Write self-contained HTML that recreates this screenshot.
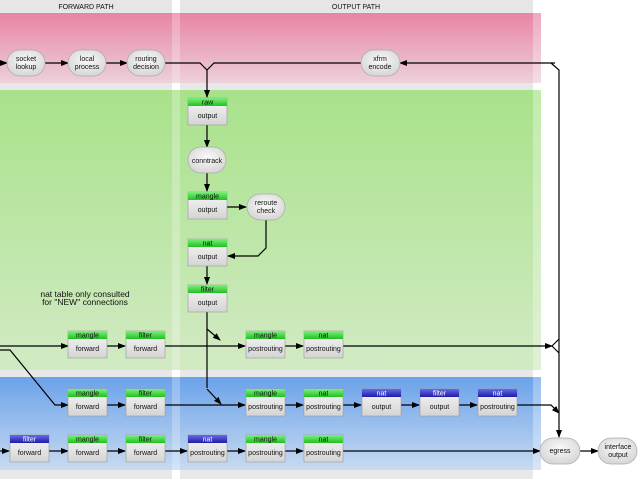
<!DOCTYPE html>
<html><head><style>
html,body{margin:0;padding:0;background:#fff}
svg{display:block}
text{font-family:"Liberation Sans",sans-serif;font-size:7px;fill:#111;text-anchor:middle}
</style></head><body>
<svg width="638" height="479" viewBox="0 0 638 479" xmlns="http://www.w3.org/2000/svg">
<defs>
<linearGradient id="pk" x1="0" y1="0" x2="0" y2="1"><stop offset="0" stop-color="#e884a4"/><stop offset="1" stop-color="#ecd0da"/></linearGradient>
<linearGradient id="gr" x1="0" y1="0" x2="0" y2="1"><stop offset="0" stop-color="#a8e28a"/><stop offset="1" stop-color="#d2eac4"/></linearGradient>
<linearGradient id="bl" x1="0" y1="0" x2="0" y2="1"><stop offset="0" stop-color="#6aa2ea"/><stop offset="1" stop-color="#c8daf0"/></linearGradient>
<linearGradient id="bx" x1="0" y1="0" x2="0" y2="1"><stop offset="0" stop-color="#f8f8f8"/><stop offset="1" stop-color="#d4d4d4"/></linearGradient>
<linearGradient id="hg" x1="0" y1="0" x2="0" y2="1"><stop offset="0" stop-color="#7cf07c"/><stop offset="1" stop-color="#22c022"/></linearGradient>
<linearGradient id="hb" x1="0" y1="0" x2="0" y2="1"><stop offset="0" stop-color="#6a6ae8"/><stop offset="1" stop-color="#1c1ca8"/></linearGradient>
<radialGradient id="el" cx="0.5" cy="0.4" r="0.6"><stop offset="0" stop-color="#fafafa"/><stop offset="1" stop-color="#d6d6d6"/></radialGradient>
<marker id="a" markerWidth="8" markerHeight="6" refX="7" refY="3" orient="auto" markerUnits="userSpaceOnUse"><path d="M0,0 L8,3 L0,6 z" fill="#000"/></marker>
</defs>
<rect x="0" y="0" width="172" height="479" fill="#e8e8e8"/>
<rect x="180" y="0" width="353" height="479" fill="#e8e8e8"/>
<rect x="0" y="13" width="541" height="70" fill="url(#pk)"/>
<rect x="0" y="90" width="541" height="280" fill="url(#gr)"/>
<rect x="0" y="377" width="541" height="93" fill="url(#bl)"/>
<rect x="172" y="13" width="8" height="457" fill="#fff" opacity="0.25"/>
<rect x="533" y="13" width="8" height="457" fill="#fff" opacity="0.3"/>
<rect x="0" y="0" width="172" height="12" fill="#e6e6e6"/>
<rect x="180" y="0" width="353" height="12" fill="#e6e6e6"/>
<text x="86" y="9">FORWARD PATH</text>
<text x="356" y="9">OUTPUT PATH</text>
<g fill="none" stroke="#000" stroke-width="1.2">
<path d="M0,63 H7" marker-end="url(#a)"/>
<path d="M45,63 H68" marker-end="url(#a)"/>
<path d="M106,63 H127" marker-end="url(#a)"/>
<path d="M165,63 H200 L207,70 L214,63 H361"/>
<path d="M207,70 V97" marker-end="url(#a)"/>
<path d="M555,63 H400" marker-end="url(#a)"/>
<path d="M551,63 L559,70 V437" marker-end="url(#a)"/>
<path d="M207,125 V147" marker-end="url(#a)"/>
<path d="M207,173 V191" marker-end="url(#a)"/>
<path d="M227,207 H246" marker-end="url(#a)"/>
<path d="M266,220 V248 L258,256 H228" marker-end="url(#a)"/>
<path d="M207,265 V284" marker-end="url(#a)"/>
<path d="M207,311 V388"/>
<path d="M207,329 L220,340" marker-end="url(#a)"/>
<path d="M207,389 L221,404" marker-end="url(#a)"/>
<path d="M0,346 H68" marker-end="url(#a)"/>
<path d="M107,346 H125" marker-end="url(#a)"/>
<path d="M164,346 H245" marker-end="url(#a)"/>
<path d="M284,346 H303" marker-end="url(#a)"/>
<path d="M342,346 H552" marker-end="url(#a)"/>
<path d="M552,346 L559,339 M552,346 L559,353"/>
<path d="M0,350 H10 L55,405 H68" marker-end="url(#a)"/>
<path d="M107,405 H125" marker-end="url(#a)"/>
<path d="M164,405 H245" marker-end="url(#a)"/>
<path d="M284,405 H303" marker-end="url(#a)"/>
<path d="M342,405 H361" marker-end="url(#a)"/>
<path d="M400,405 H419" marker-end="url(#a)"/>
<path d="M458,405 H477" marker-end="url(#a)"/>
<path d="M516,405 H551 L559,413" marker-end="url(#a)"/>
<path d="M0,451 H9" marker-end="url(#a)"/>
<path d="M48,451 H68" marker-end="url(#a)"/>
<path d="M107,451 H125" marker-end="url(#a)"/>
<path d="M164,451 H187" marker-end="url(#a)"/>
<path d="M226,451 H245" marker-end="url(#a)"/>
<path d="M284,451 H303" marker-end="url(#a)"/>
<path d="M342,451 H540" marker-end="url(#a)"/>
<path d="M579,451 H598" marker-end="url(#a)"/>
</g>
<g stroke="#aaa" stroke-width="0.7" fill="url(#el)">
<rect x="7" y="50" width="38" height="26" rx="13"/>
<rect x="68" y="50" width="38" height="26" rx="13"/>
<rect x="127" y="50" width="38" height="26" rx="13"/>
<rect x="361" y="50" width="39" height="26" rx="13"/>
<rect x="188" y="147" width="38" height="26" rx="13"/>
<rect x="247" y="194" width="38" height="26" rx="13"/>
<rect x="540" y="438" width="40" height="26" rx="13"/>
<rect x="598" y="438" width="39" height="26" rx="13"/>
</g>
<text x="26" y="61">socket</text><text x="26" y="69">lookup</text>
<text x="87" y="61">local</text><text x="87" y="69">process</text>
<text x="146" y="61">routing</text><text x="146" y="69">decision</text>
<text x="380" y="61">xfrm</text><text x="380" y="69">encode</text>
<text x="207" y="163">conntrack</text>
<text x="266" y="205">reroute</text><text x="266" y="213">check</text>
<text x="560" y="453">egress</text>
<text x="618" y="449">interface</text><text x="618" y="457">output</text>
<text x="85" y="297" style="font-size:8.5px">nat table only consulted</text>
<text x="85" y="305" style="font-size:8.5px">for "NEW" connections</text>
<g>
<rect x="188" y="98" width="39" height="27" fill="url(#bx)" stroke="#999" stroke-width="0.6"/><rect x="188" y="98" width="39" height="8" fill="url(#hg)"/><text x="207.5" y="104.5">raw</text><text x="207.5" y="118">output</text>
<rect x="188" y="192" width="39" height="27" fill="url(#bx)" stroke="#999" stroke-width="0.6"/><rect x="188" y="192" width="39" height="8" fill="url(#hg)"/><text x="207.5" y="198.5">mangle</text><text x="207.5" y="212">output</text>
<rect x="188" y="239" width="39" height="27" fill="url(#bx)" stroke="#999" stroke-width="0.6"/><rect x="188" y="239" width="39" height="8" fill="url(#hg)"/><text x="207.5" y="245.5">nat</text><text x="207.5" y="259">output</text>
<rect x="188" y="285" width="39" height="27" fill="url(#bx)" stroke="#999" stroke-width="0.6"/><rect x="188" y="285" width="39" height="8" fill="url(#hg)"/><text x="207.5" y="291.5">filter</text><text x="207.5" y="305">output</text>
<rect x="68" y="331" width="39" height="27" fill="url(#bx)" stroke="#999" stroke-width="0.6"/><rect x="68" y="331" width="39" height="8" fill="url(#hg)"/><text x="87.5" y="337.5">mangle</text><text x="87.5" y="351">forward</text>
<rect x="126" y="331" width="39" height="27" fill="url(#bx)" stroke="#999" stroke-width="0.6"/><rect x="126" y="331" width="39" height="8" fill="url(#hg)"/><text x="145.5" y="337.5">filter</text><text x="145.5" y="351">forward</text>
<rect x="246" y="331" width="39" height="27" fill="url(#bx)" stroke="#999" stroke-width="0.6"/><rect x="246" y="331" width="39" height="8" fill="url(#hg)"/><text x="265.5" y="337.5">mangle</text><text x="265.5" y="351">postrouting</text>
<rect x="304" y="331" width="39" height="27" fill="url(#bx)" stroke="#999" stroke-width="0.6"/><rect x="304" y="331" width="39" height="8" fill="url(#hg)"/><text x="323.5" y="337.5">nat</text><text x="323.5" y="351">postrouting</text>
<rect x="68" y="389" width="39" height="27" fill="url(#bx)" stroke="#999" stroke-width="0.6"/><rect x="68" y="389" width="39" height="8" fill="url(#hg)"/><text x="87.5" y="395.5">mangle</text><text x="87.5" y="409">forward</text>
<rect x="126" y="389" width="39" height="27" fill="url(#bx)" stroke="#999" stroke-width="0.6"/><rect x="126" y="389" width="39" height="8" fill="url(#hg)"/><text x="145.5" y="395.5">filter</text><text x="145.5" y="409">forward</text>
<rect x="246" y="389" width="39" height="27" fill="url(#bx)" stroke="#999" stroke-width="0.6"/><rect x="246" y="389" width="39" height="8" fill="url(#hg)"/><text x="265.5" y="395.5">mangle</text><text x="265.5" y="409">postrouting</text>
<rect x="304" y="389" width="39" height="27" fill="url(#bx)" stroke="#999" stroke-width="0.6"/><rect x="304" y="389" width="39" height="8" fill="url(#hg)"/><text x="323.5" y="395.5">nat</text><text x="323.5" y="409">postrouting</text>
<rect x="362" y="389" width="39" height="27" fill="url(#bx)" stroke="#999" stroke-width="0.6"/><rect x="362" y="389" width="39" height="8" fill="url(#hb)"/><text x="381.5" y="395.5" style="fill:#fff">nat</text><text x="381.5" y="409">output</text>
<rect x="420" y="389" width="39" height="27" fill="url(#bx)" stroke="#999" stroke-width="0.6"/><rect x="420" y="389" width="39" height="8" fill="url(#hb)"/><text x="439.5" y="395.5" style="fill:#fff">filter</text><text x="439.5" y="409">output</text>
<rect x="478" y="389" width="39" height="27" fill="url(#bx)" stroke="#999" stroke-width="0.6"/><rect x="478" y="389" width="39" height="8" fill="url(#hb)"/><text x="497.5" y="395.5" style="fill:#fff">nat</text><text x="497.5" y="409">postrouting</text>
<rect x="10" y="435" width="39" height="27" fill="url(#bx)" stroke="#999" stroke-width="0.6"/><rect x="10" y="435" width="39" height="8" fill="url(#hb)"/><text x="29.5" y="441.5" style="fill:#fff">filter</text><text x="29.5" y="455">forward</text>
<rect x="68" y="435" width="39" height="27" fill="url(#bx)" stroke="#999" stroke-width="0.6"/><rect x="68" y="435" width="39" height="8" fill="url(#hg)"/><text x="87.5" y="441.5">mangle</text><text x="87.5" y="455">forward</text>
<rect x="126" y="435" width="39" height="27" fill="url(#bx)" stroke="#999" stroke-width="0.6"/><rect x="126" y="435" width="39" height="8" fill="url(#hg)"/><text x="145.5" y="441.5">filter</text><text x="145.5" y="455">forward</text>
<rect x="188" y="435" width="39" height="27" fill="url(#bx)" stroke="#999" stroke-width="0.6"/><rect x="188" y="435" width="39" height="8" fill="url(#hb)"/><text x="207.5" y="441.5" style="fill:#fff">nat</text><text x="207.5" y="455">postrouting</text>
<rect x="246" y="435" width="39" height="27" fill="url(#bx)" stroke="#999" stroke-width="0.6"/><rect x="246" y="435" width="39" height="8" fill="url(#hg)"/><text x="265.5" y="441.5">mangle</text><text x="265.5" y="455">postrouting</text>
<rect x="304" y="435" width="39" height="27" fill="url(#bx)" stroke="#999" stroke-width="0.6"/><rect x="304" y="435" width="39" height="8" fill="url(#hg)"/><text x="323.5" y="441.5">nat</text><text x="323.5" y="455">postrouting</text>
</g>
</svg>
</body></html>
